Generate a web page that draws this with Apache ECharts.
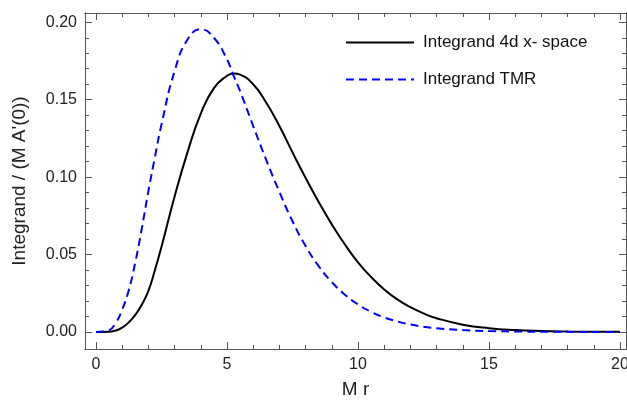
<!DOCTYPE html>
<html>
<head>
<meta charset="utf-8">
<script src="https://cdn.jsdelivr.net/npm/echarts@6/dist/echarts.min.js"></script>
<style>html,body{margin:0;padding:0;background:#fff}#c{width:627px;height:402px}</style>
</head>
<body>
<div id="c"></div>
<script>
const xs = [0,0.5,0.75,1,1.25,1.5,1.75,2,2.25,2.5,3,3.5,4,4.5,5,5.25,5.5,6,6.5,7,7.5,8,8.5,9,9.5,10,10.5,11,11.5,12,12.5,13,14,15,16,17,18,19,20];
const xspace = [0,0.0002,0.0009,0.0028,0.0062,0.011,0.0178,0.0265,0.040,0.055,0.0875,0.1165,0.141,0.1575,0.1655,0.167,0.1662,0.160,0.148,0.133,0.116,0.0995,0.084,0.0695,0.0565,0.045,0.0355,0.0275,0.021,0.016,0.012,0.0089,0.0047,0.0024,0.0012,0.0006,0.0003,0.00013,0.00006];
const tmr = [0,0.0012,0.0058,0.0145,0.027,0.045,0.067,0.091,0.113,0.134,0.1685,0.189,0.1955,0.190,0.176,0.1655,0.1555,0.133,0.111,0.0905,0.0715,0.0555,0.0425,0.0322,0.0241,0.0178,0.013,0.0094,0.0068,0.0048,0.0034,0.0024,0.0012,0.0006,0.0003,0.00014,0.00006,0.00003,0.00001];
const xMajor = [0,5,10,15,20];
const xMinor = [1,2,3,4,6,7,8,9,11,12,13,14,16,17,18,19];
const yMajor = [0,0.05,0.10,0.15,0.20];
const yMinor = [0.01,0.02,0.03,0.04,0.06,0.07,0.08,0.09,0.11,0.12,0.13,0.14,0.16,0.17,0.18,0.19];
const names = ['Integrand 4d x- space','Integrand TMR'];

const FONT = 'Liberation Sans, Arial, sans-serif';
const XMIN = -0.42, XMAX = 20.23, YMIN = -0.011, YMAX = 0.206;
const frameColor = '#555';

function xAx(pos, ticks, len, labels, extra) {
  return Object.assign({
    type:'value', position:pos, min:XMIN, max:XMAX,
    axisLine:{show:true, onZero:false, lineStyle:{color:frameColor, width:1}},
    axisTick:{show:true, inside:true, length:len, customValues:ticks, lineStyle:{color:frameColor}},
    axisLabel:{show:labels, customValues:ticks, color:'#222', fontSize:16, fontFamily:FONT, margin:8},
    splitLine:{show:false}
  }, extra||{});
}
function yAx(pos, ticks, len, labels, extra) {
  return Object.assign({
    type:'value', position:pos, min:YMIN, max:YMAX,
    axisLine:{show:true, onZero:false, lineStyle:{color:frameColor, width:1}},
    axisTick:{show:true, inside:true, length:len, customValues:ticks, lineStyle:{color:frameColor}},
    axisLabel:{show:labels, customValues:ticks, color:'#222', fontSize:16, fontFamily:FONT, margin:8,
      formatter:v=>v.toFixed(2)},
    splitLine:{show:false}
  }, extra||{});
}

const chart = echarts.init(document.getElementById('c'), null, {renderer:'canvas'});
chart.setOption({
  animation:false,
  grid:{left:85, top:13, right:1, bottom:53, containLabel:false, outerBoundsMode:'none'},
  xAxis:[
    xAx('bottom', xMajor, 7, true, {name:'M r', nameLocation:'middle', nameGap:31,
      nameTextStyle:{color:'#222', fontSize:19, fontFamily:FONT}}),
    xAx('bottom', xMinor, 4, false),
    xAx('top', xMajor, 7, false),
    xAx('top', xMinor, 4, false)
  ],
  yAxis:[
    yAx('left', yMajor, 7, true, {name:"Integrand / (M A'(0))", nameLocation:'middle', nameGap:56,
      nameTextStyle:{color:'#222', fontSize:19, fontFamily:FONT}}),
    yAx('left', yMinor, 4, false),
    yAx('right', yMajor, 7, false),
    yAx('right', yMinor, 4, false)
  ],
  legend:{
    orient:'vertical', left:340, top:29, itemWidth:68, itemHeight:16, itemGap:20,
    itemStyle:{opacity:0},
    textStyle:{color:'#111', fontSize:17, fontFamily:FONT, padding:[0,0,0,4]},
    data:names
  },
  series:[
    {name:names[0], type:'line', xAxisIndex:0, yAxisIndex:0, symbol:'none', smooth:0.5,
      lineStyle:{color:'#000', width:2}, itemStyle:{color:'#000'},
      data:xs.map((x,i)=>[x,xspace[i]])},
    {name:names[1], type:'line', xAxisIndex:0, yAxisIndex:0, symbol:'none', smooth:0.5,
      lineStyle:{color:'#0000ff', width:2, type:[8,5]}, itemStyle:{color:'#0000ff'},
      data:xs.map((x,i)=>[x,tmr[i]])}
  ]
});
</script>
</body>
</html>
